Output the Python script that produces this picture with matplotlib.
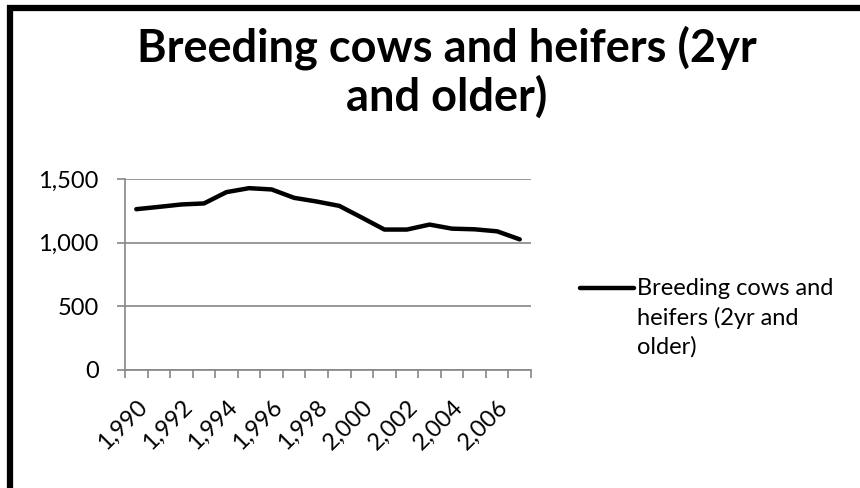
import matplotlib
matplotlib.use("Agg")
import matplotlib.pyplot as plt
from matplotlib.patches import Rectangle
from matplotlib.lines import Line2D
from matplotlib.ticker import FuncFormatter

# data (thousand head)
years = list(range(1990, 2008))
cows = [1263, 1281, 1300, 1308, 1397, 1428, 1418, 1352, 1323, 1289,
        1197, 1103, 1103, 1142, 1110, 1105, 1089, 1026]
title = "Breeding cows and heifers (2yr\nand older)"
legend_label = "Breeding cows and\nheifers (2yr and\nolder)"
yticks = [0, 500, 1000, 1500]

plt.rcParams['font.family'] = ['Lato', 'DejaVu Sans']
grey = '#868686'

fig = plt.figure(figsize=(8.6, 4.88), dpi=100)
ax = fig.add_axes([125/860, 1 - 370/488, 406/860, 191/488])

x = list(range(len(years)))
line, = ax.plot(x, cows, color='black', lw=3.2, solid_capstyle='round',
                solid_joinstyle='round', label=legend_label)

ax.set_xlim(-0.5, len(years) - 0.5)
ax.set_ylim(0, 1500)
ax.set_yticks(yticks)
ax.yaxis.set_major_formatter(FuncFormatter(lambda v, p: f"{int(v):,}"))
ax.yaxis.grid(True, color=grey, lw=1.2)
ax.set_axisbelow(True)

# category axis: ticks between categories, labels every other year
ax.set_xticks([i - 0.5 for i in range(len(years) + 1)], minor=False)
ax.set_xticklabels([''] * (len(years) + 1))
ax.set_xticks(x[::2], minor=True)
ax.set_xticklabels([f"{y:,}" for y in years[::2]], minor=True,
                   rotation=45, ha='right', rotation_mode='anchor')
ax.tick_params(axis='x', which='minor', length=0, pad=19, labelsize=17)
ax.tick_params(axis='x', which='major', length=6, color=grey, width=1.2)
ax.tick_params(axis='y', length=6, color=grey, width=1.2, pad=13, labelsize=17)

for s in ['top', 'right']:
    ax.spines[s].set_visible(False)
for s in ['left', 'bottom']:
    ax.spines[s].set_color(grey)
    ax.spines[s].set_linewidth(1.2)

fig.text(447/860, 1 - 72/488, title, ha='center', va='center',
         fontsize=32.5, fontweight='bold', linespacing=1.13)

# legend, Excel style: key sits on the first text line
ly = 1 - 288/488
fig.add_artist(Line2D([580/860, 634/860], [ly, ly], transform=fig.transFigure,
                      color='black', lw=3.2, solid_capstyle='round'))
fig.text(637/860, 1 - 278/488, legend_label, ha='left', va='top',
         fontsize=17, linespacing=1.42, transform=fig.transFigure)

# thick outer border, cut off at right and bottom like the reference
fig.patches.append(Rectangle((10/860, -0.1), 1.1, 1 - 8/488 + 0.1,
                             transform=fig.transFigure, fill=False,
                             edgecolor='black', lw=4.5))

fig.savefig('out.png', dpi=100)
